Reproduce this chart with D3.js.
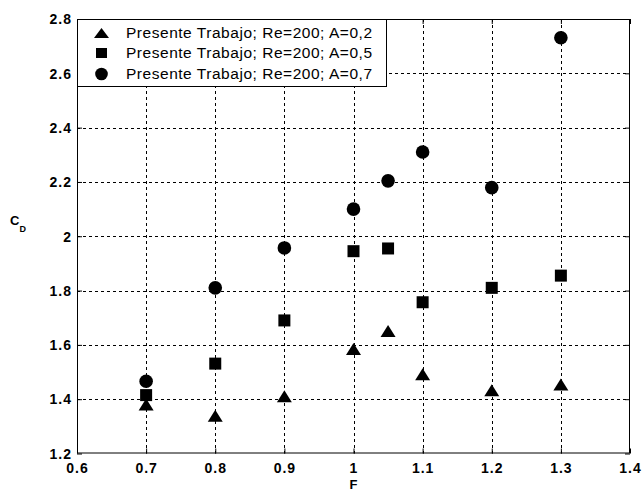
<!DOCTYPE html>
<html><head><meta charset="utf-8">
<script src="https://cdn.jsdelivr.net/npm/d3@7"></script>
<style>
html,body{margin:0;padding:0;background:#fff;}
svg{display:block;}
</style></head>
<body>
<script>
// ---- data ----
const F = [0.7, 0.8, 0.9, 1.0, 1.05, 1.1, 1.2, 1.3];
const cdA02 = [1.38, 1.339, 1.411, 1.585, 1.651, 1.492, 1.433, 1.454];
const cdA05 = [1.415, 1.531, 1.69, 1.945, 1.955, 1.757, 1.81, 1.855];
const cdA07 = [1.466, 1.81, 1.957, 2.10, 2.204, 2.31, 2.179, 2.731];
const seriesNames = ["Presente Trabajo; Re=200; A=0,2", "Presente Trabajo; Re=200; A=0,5", "Presente Trabajo; Re=200; A=0,7"];
const xTicks = [0.6, 0.7, 0.8, 0.9, 1.0, 1.1, 1.2, 1.3, 1.4];
const yTicks = [1.2, 1.4, 1.6, 1.8, 2.0, 2.2, 2.4, 2.6, 2.8];

const W = 642, H = 493;
const L = 77, R = 630, T = 19, B = 453.5;
const svg = d3.select("body").append("svg").attr("width", W).attr("height", H);
svg.append("rect").attr("width", W).attr("height", H).attr("fill", "#fff");

const x = d3.scaleLinear().domain([0.6, 1.4]).range([L, R]);
const y = d3.scaleLinear().domain([1.2, 2.8]).range([B, T]);

const fmt = v => (v === 1 || v === 2) ? String(v) : d3.format(".1f")(v);

// grid
const g = svg.append("g");
g.selectAll("line.vg").data(xTicks.slice(1, -1)).join("line")
  .attr("x1", d => Math.round(x(d)) + 0.5).attr("x2", d => Math.round(x(d)) + 0.5)
  .attr("y1", T).attr("y2", B)
  .attr("stroke", "#000").attr("stroke-width", 1).attr("stroke-dasharray", "3,3");
g.selectAll("line.hg").data(yTicks.slice(1, -1)).join("line")
  .attr("y1", d => Math.round(y(d)) + 0.5).attr("y2", d => Math.round(y(d)) + 0.5)
  .attr("x1", L).attr("x2", R)
  .attr("stroke", "#000").attr("stroke-width", 1).attr("stroke-dasharray", "3,3");

// axes with inward ticks (bottom/left/top/right)
const tickFont = "'Liberation Sans', Arial, sans-serif";
const axB = svg.append("g").attr("transform", `translate(0,${B})`)
  .call(d3.axisBottom(x).tickValues(xTicks).tickSizeInner(-5).tickSizeOuter(0).tickPadding(10).tickFormat(fmt));
const axL = svg.append("g").attr("transform", `translate(${L},0)`)
  .call(d3.axisLeft(y).tickValues(yTicks).tickSizeInner(-5).tickSizeOuter(0).tickPadding(5).tickFormat(fmt));
const axT = svg.append("g").attr("transform", `translate(0,${T})`)
  .call(d3.axisTop(x).tickValues(xTicks).tickSizeInner(-5).tickSizeOuter(0).tickFormat(""));
const axR = svg.append("g").attr("transform", `translate(${R},0)`)
  .call(d3.axisRight(y).tickValues(yTicks).tickSizeInner(-5).tickSizeOuter(0).tickFormat(""));
[axB, axL, axT, axR].forEach(a => {
  a.select(".domain").remove();
  a.selectAll("line").attr("stroke", "#000");
  a.selectAll("text").attr("fill", "#000").attr("font-family", tickFont)
    .attr("font-weight", "bold").attr("font-size", "14px").attr("letter-spacing", "1px");
});
axB.selectAll("text").attr("dy", "0.71em");
axL.selectAll("text").attr("dy", "0.34em");

// box
svg.append("rect").attr("x", L + 0.5).attr("y", T + 0.5).attr("width", R - L - 1).attr("height", B - T - 1)
  .attr("fill", "none").attr("stroke", "#000").attr("stroke-width", 1);

// markers
const triPath = (w, h) => `M0,${-h/2}L${w/2},${h/2}L${-w/2},${h/2}Z`;
const mk = svg.append("g");
mk.selectAll("path.tri").data(F.map((f, i) => [f, cdA02[i]])).join("path")
  .attr("d", triPath(15, 12)).attr("transform", d => `translate(${x(d[0])},${y(d[1])})`).attr("fill", "#000");
mk.selectAll("rect.sq").data(F.map((f, i) => [f, cdA05[i]])).join("rect")
  .attr("x", d => x(d[0]) - 6).attr("y", d => y(d[1]) - 6).attr("width", 12).attr("height", 12).attr("fill", "#000");
mk.selectAll("circle.ci").data(F.map((f, i) => [f, cdA07[i]])).join("circle")
  .attr("cx", d => x(d[0])).attr("cy", d => y(d[1])).attr("r", 6.8).attr("fill", "#000");

// legend
const lg = svg.append("g");
lg.append("rect").attr("x", L + 0.5).attr("y", T + 0.5).attr("width", 309).attr("height", 67)
  .attr("fill", "#fff").attr("stroke", "#000").attr("stroke-width", 1);
const rowsY = [33, 53, 74];
const lx = 101.5;
lg.append("path").attr("d", triPath(15, 10)).attr("transform", `translate(${lx},${rowsY[0]})`).attr("fill", "#000");
lg.append("rect").attr("x", lx - 5.5).attr("y", rowsY[1] - 5).attr("width", 11).attr("height", 10).attr("fill", "#000");
lg.append("circle").attr("cx", lx).attr("cy", rowsY[2]).attr("r", 6.3).attr("fill", "#000");
lg.selectAll("text").data(seriesNames).join("text")
  .attr("x", 126).attr("y", (d, i) => rowsY[i] + 5)
  .attr("font-family", tickFont).attr("font-size", "15.5px").attr("fill", "#000")
  .attr("textLength", 246).attr("lengthAdjust", "spacing")
  .text(d => d);

// axis labels
svg.append("text").attr("x", x(1.0)).attr("y", 489).attr("text-anchor", "middle")
  .attr("font-family", tickFont).attr("font-weight", "bold").attr("font-size", "13px").text("F");
const cd = svg.append("text").attr("x", 10).attr("y", 225)
  .attr("font-family", tickFont).attr("font-weight", "bold").attr("font-size", "13px");
cd.append("tspan").text("C");
cd.append("tspan").attr("font-size", "9px").attr("dy", 7).text("D");
</script>
</body></html>
